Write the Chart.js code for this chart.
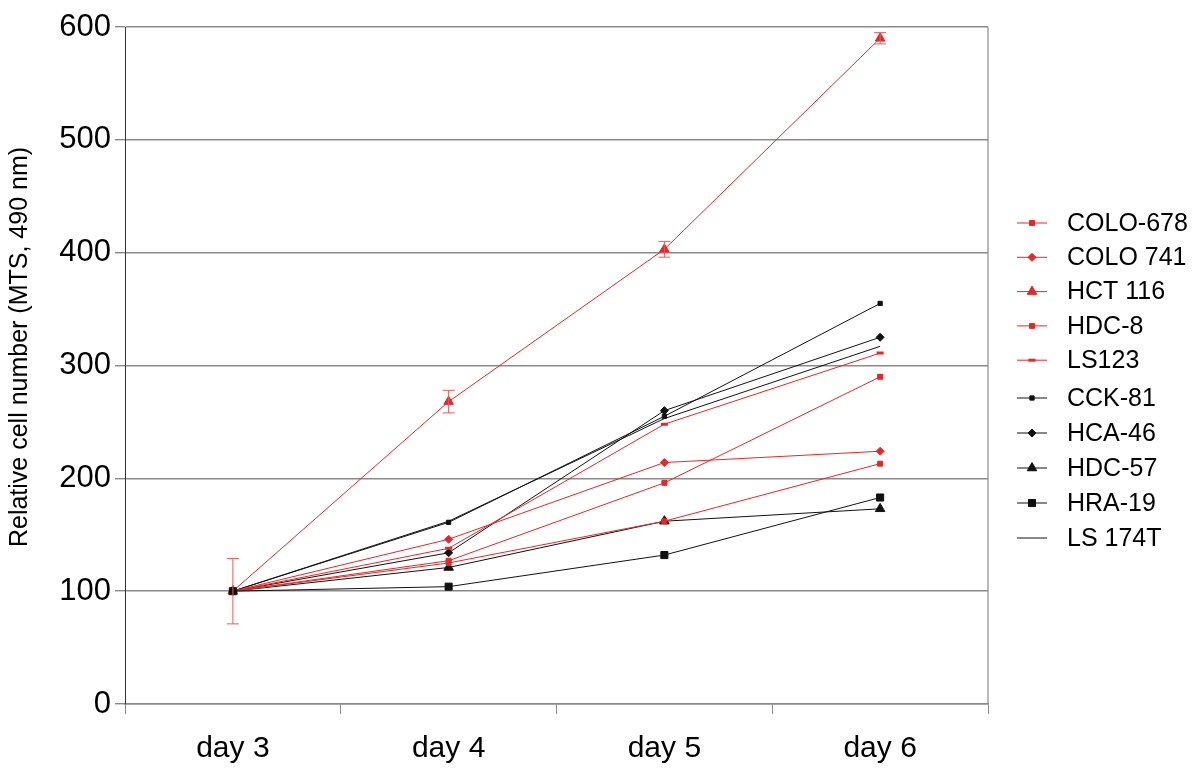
<!DOCTYPE html>
<html>
<head>
<meta charset="utf-8">
<script src="https://cdn.jsdelivr.net/npm/chart.js@4/dist/chart.umd.min.js"></script>
<style>
  html, body { margin: 0; padding: 0; background: #fff; }
  #wrap { width: 1200px; height: 779px; }
</style>
</head>
<body>
<div id="wrap"><canvas id="chart" width="1200" height="779"></canvas></div>
<script>
// categories
var days = ['day 3', 'day 4', 'day 5', 'day 6'];

// red cell lines
var colo678 = [100, 125, 162, 213];
var colo741 = [100, 146, 214, 224];
var hct116  = [100, 268, 403, 590];
var hdc8    = [100, 127, 196, 290];
var ls123   = [100, 138, 248, 311];

// black cell lines
var cck81   = [100, 161, 255, 355];
var hca46   = [100, 134, 260, 325];
var hdc57   = [100, 121, 162, 173];
var hra19   = [100, 104, 132, 183];
var ls174t  = [100, 162, 253, 317];

// error (+/-) shown on HCT 116
var hct116Err = [29, 10, 7, 5];

var yTicks = [0, 100, 200, 300, 400, 500, 600];
var yTitle = 'Relative cell number (MTS, 490 nm)';

var RED = 'rgb(238,36,36)';
var BLK = '#111111';
var FONT = '"Liberation Sans", Arial, sans-serif';

function series(label, data, color, style, radius, bw, order) {
	return {
		label: label,
		data: data,
		borderColor: color,
		backgroundColor: color,
		pointBackgroundColor: color,
		pointBorderColor: color,
		borderWidth: 1,
		pointStyle: style,
		pointRadius: radius,
		pointHoverRadius: radius,
		pointBorderWidth: bw || 1,
		order: order || 0,
		tension: 0,
		fill: false
	};
}

var datasets = [
	series('COLO-678', colo678, RED, 'rect', 3.5),
	series('COLO 741', colo741, RED, 'rectRot', 4),
	series('HCT 116', hct116, RED, 'triangle', 5.5),
	series('HDC-8', hdc8, RED, 'rect', 3.5),
	series('LS123', ls123, RED, 'line', 3.5, 3),
	series('CCK-81', cck81, BLK, 'rect', 3),
	series('HCA-46', hca46, BLK, 'rectRot', 4),
	series('HDC-57', hdc57, BLK, 'triangle', 5.5),
	series('HRA-19', hra19, BLK, 'rect', 5, 1, -1),
	series('LS 174T', ls174t, BLK, false, 0)
];

// error bars for HCT 116
var errorBars = {
	id: 'errorBars',
	afterDatasetsDraw: function(chart) {
		var ctx = chart.ctx;
		var meta = chart.getDatasetMeta(2);
		var ys = chart.scales.y;
		ctx.save();
		ctx.strokeStyle = 'rgb(235,90,90)';
		ctx.lineWidth = 1;
		meta.data.forEach(function(pt, i) {
			var v = hct116[i], e = hct116Err[i];
			var top = ys.getPixelForValue(v + e);
			var bot = ys.getPixelForValue(v - e);
			ctx.beginPath();
			ctx.moveTo(pt.x, top); ctx.lineTo(pt.x, bot);
			ctx.moveTo(pt.x - 6, top); ctx.lineTo(pt.x + 6, top);
			ctx.moveTo(pt.x - 6, bot); ctx.lineTo(pt.x + 6, bot);
			ctx.stroke();
		});
		ctx.restore();
	}
};

// right border of plot, y title, legend with line samples
var frameAndLegend = {
	id: 'frameAndLegend',
	afterDraw: function(chart) {
		var ctx = chart.ctx;
		var a = chart.chartArea;
		ctx.save();
		ctx.strokeStyle = '#8a8a8a';
		ctx.lineWidth = 1.2;
		ctx.beginPath();
		ctx.moveTo(a.right, a.top);
		ctx.lineTo(a.right, a.bottom);
		ctx.stroke();

		// y axis title, sits a bit above the axis centre in the original
		ctx.save();
		ctx.translate(20, 347);
		ctx.rotate(-Math.PI / 2);
		ctx.font = '25px ' + FONT;
		ctx.fillStyle = '#000';
		ctx.textAlign = 'center';
		ctx.textBaseline = 'middle';
		ctx.fillText(yTitle, 0, 0);
		ctx.restore();

		var x0 = 1017, x1 = 1047, tx = 1067;
		ctx.font = '25px ' + FONT;
		ctx.textBaseline = 'middle';
		ctx.textAlign = 'left';
		chart.data.datasets.forEach(function(ds, i) {
			var y = i < 5 ? 223 + i * 34.3 : 398 + (i - 5) * 35;
			ctx.strokeStyle = ds.borderColor;
			ctx.fillStyle = ds.borderColor;
			ctx.lineWidth = 1;
			ctx.beginPath();
			ctx.moveTo(x0, y); ctx.lineTo(x1, y);
			ctx.stroke();
			if (ds.pointStyle && ds.pointRadius > 0) {
				ctx.lineWidth = ds.pointBorderWidth;
				Chart.helpers.drawPoint(ctx, {
					pointStyle: ds.pointStyle,
					radius: ds.pointRadius,
					rotation: 0,
					borderWidth: ds.pointBorderWidth
				}, (x0 + x1) / 2, y);
			}
			ctx.fillStyle = '#000';
			ctx.fillText(ds.label, tx, y + 1);
		});
		ctx.restore();
	}
};

var ctx = document.getElementById('chart').getContext('2d');
var chart = new Chart(ctx, {
	type: 'line',
	data: { labels: days, datasets: datasets },
	plugins: [errorBars, frameAndLegend],
	options: {
		responsive: false,
		animation: false,
		events: [],
		layout: { padding: { left: 0, top: 27, right: 212, bottom: 0 } },
		plugins: {
			legend: { display: false },
			tooltip: { enabled: false }
		},
		scales: {
			x: {
				type: 'category',
				offset: true,
				afterFit: function(s) { s.height = 75; },
				grid: {
					offset: true,
					drawOnChartArea: false,
					drawTicks: true,
					tickLength: 10,
					color: '#8a8a8a',
					lineWidth: 1
				},
				border: { color: '#8a8a8a', width: 1.5 },
				ticks: {
					color: '#000',
					padding: 17,
					font: { family: FONT, size: 30 }
				}
			},
			y: {
				min: 0,
				max: 600,
				afterFit: function(s) { s.width = 125; },
				afterBuildTicks: function(s) {
					s.ticks = yTicks.map(function(v) { return { value: v }; });
				},
				grid: {
					color: '#8a8a8a',
					lineWidth: 1.4,
					drawTicks: true,
					tickLength: 10
				},
				border: { color: '#333', width: 1 },
				ticks: {
					color: '#000',
					padding: 4,
					font: { family: FONT, size: 31 }
				}
			}
		}
	}
});
</script>
</body>
</html>
